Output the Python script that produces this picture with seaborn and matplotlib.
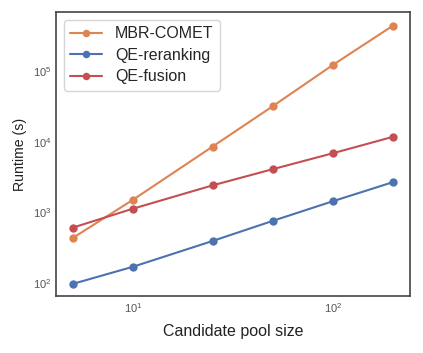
import matplotlib
matplotlib.use("Agg")
import matplotlib.pyplot as plt
import seaborn as sns
import pandas as pd

pool_sizes = [5, 10, 25, 50, 100, 200]
mbr_comet = [436, 1510, 8500, 31600, 121000, 435000]
qe_reranking = [98, 171, 395, 760, 1440, 2680]
qe_fusion = [610, 1130, 2410, 4080, 6850, 11700]
methods = ["MBR-COMET", "QE-reranking", "QE-fusion"]
colors = ["#dd8452", "#4c72b0", "#c44e52"]

df = pd.DataFrame({
    "Candidate pool size": pool_sizes * 3,
    "Runtime (s)": mbr_comet + qe_reranking + qe_fusion,
    "Method": [methods[0]] * 6 + [methods[1]] * 6 + [methods[2]] * 6,
})

sns.set_theme(style="white")
plt.rcParams["font.family"] = ["Liberation Sans", "DejaVu Sans"]
plt.rcParams["mathtext.fontset"] = "custom"
plt.rcParams["mathtext.rm"] = "Liberation Sans"
plt.rcParams["mathtext.it"] = "Liberation Sans:italic"
fig = plt.figure(figsize=(4.23, 3.53), dpi=100)
ax = fig.add_axes([56 / 423, 1 - 296 / 353, 354 / 423, 284 / 353])
sns.lineplot(data=df, x="Candidate pool size", y="Runtime (s)", hue="Method",
             palette=dict(zip(methods, colors)), marker="o", markersize=6,
             markeredgewidth=0, linewidth=1.5, ax=ax)
ax.set_xscale("log")
ax.set_yscale("log")
ax.set_xlim(4.12, 243)
ax.set_ylim(10 ** 1.82, 10 ** 5.83)
ax.tick_params(labelsize=8, colors="#555555", length=0)
ax.set_xlabel("Candidate pool size", fontsize=11.5, color="#222222", labelpad=7)
ax.set_ylabel("Runtime (s)", fontsize=10.2, color="#222222")
for s in ax.spines.values():
    s.set_color("#444444")
    s.set_linewidth(1.2)
leg = ax.legend(title=None, fontsize=11.5, loc="upper left", frameon=True,
                markerscale=0.9, labelspacing=0.4)
fig.savefig("out.png", dpi=100)
